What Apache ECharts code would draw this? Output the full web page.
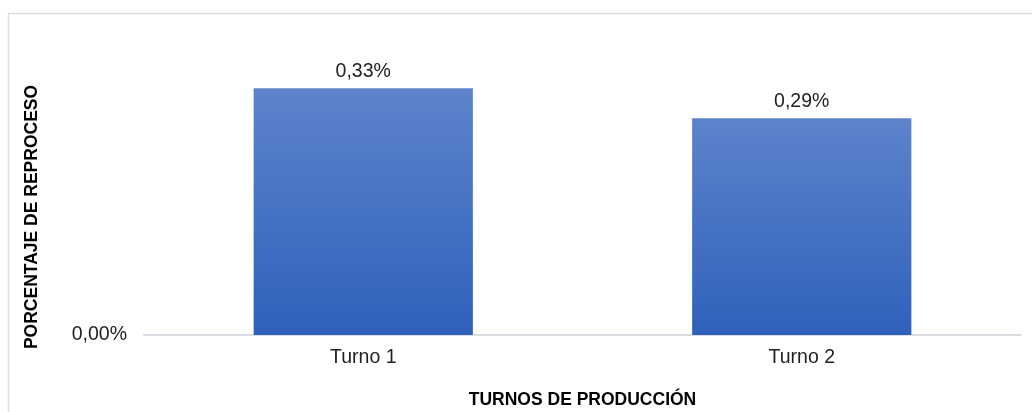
<!DOCTYPE html>
<html>
<head>
<meta charset="utf-8">
<script src="https://cdn.jsdelivr.net/npm/echarts@6/dist/echarts.min.js"></script>
<style>
html,body{margin:0;padding:0;background:#fff;}
#c{width:1032px;height:412px;}
</style>
</head>
<body>
<div id="c"></div>
<script>
const categories = ['Turno 1', 'Turno 2'];
const values = [0.33, 0.29];
const xAxisName = 'TURNOS DE PRODUCCIÓN';
const yAxisName = 'PORCENTAJE DE REPROCESO';

const fmt = v => v.toFixed(2).replace('.', ',') + '%';
const chart = echarts.init(document.getElementById('c'));
chart.setOption({
  animation: false,
  textStyle: { fontFamily: 'Liberation Sans, Arial, sans-serif' },
  graphic: [
    { type: 'rect', shape: { x: 8.5, y: 13.5, width: 1100, height: 500 },
      style: { fill: 'none', stroke: '#d9dde3', lineWidth: 1.5 }, silent: true },
    { type: 'text', x: 32, y: 217, rotation: Math.PI / 2,
      style: { text: yAxisName, fontSize: 17.5, fontWeight: 'bold', fill: '#000',
        fontFamily: 'Liberation Sans, Arial, sans-serif', align: 'center', verticalAlign: 'middle' } }
  ],
  grid: { left: 144, right: 11, top: 36, bottom: 77, outerBoundsMode: 'none', containLabel: false },
  xAxis: {
    type: 'category', data: categories,
    name: xAxisName, nameLocation: 'middle', nameGap: 56,
    nameTextStyle: { fontSize: 17.5, fontWeight: 'bold', color: '#000' },
    axisLine: { lineStyle: { color: '#d9dde3', width: 2 } },
    axisTick: { show: false },
    axisLabel: { fontSize: 19.5, color: '#222', margin: 13 }
  },
  yAxis: {
    type: 'value', min: 0, max: 0.4, interval: 0.4,
    axisLine: { show: false }, axisTick: { show: false }, splitLine: { show: false },
    axisLabel: { fontSize: 19.5, color: '#222', margin: 17,
      formatter: v => v === 0 ? fmt(v) : '' }
  },
  series: [{
    type: 'bar', data: values, barWidth: '50%',
    itemStyle: {
      color: new echarts.graphic.LinearGradient(0, 0, 0, 1, [
        { offset: 0, color: '#5d83cb' },
        { offset: 1, color: '#2f61bb' }
      ])
    },
    label: { show: true, position: 'top', distance: 7, fontSize: 19.5, color: '#222',
      formatter: p => fmt(p.value) }
  }]
});
</script>
</body>
</html>
